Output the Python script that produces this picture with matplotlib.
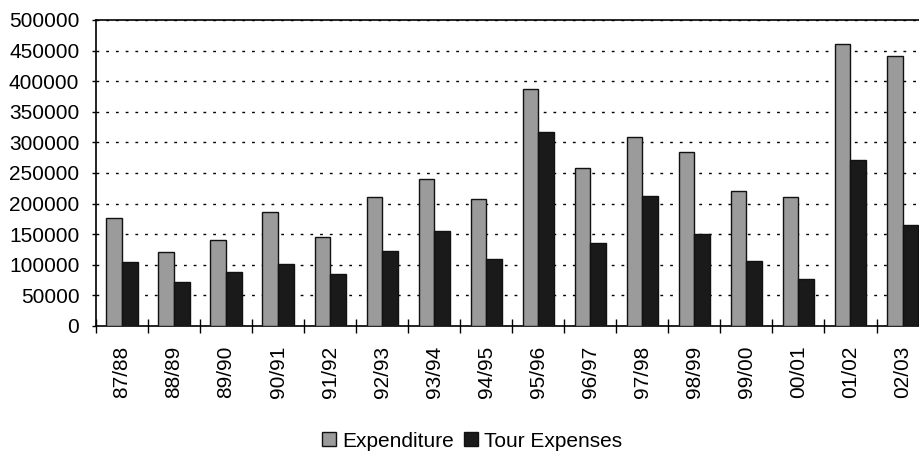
import numpy as np
import matplotlib.pyplot as plt

# financial years and the two series
years = ['87/88', '88/89', '89/90', '90/91', '91/92', '92/93', '93/94', '94/95',
         '95/96', '96/97', '97/98', '98/99', '99/00', '00/01', '01/02', '02/03']
expenditure = [177000, 121000, 141000, 187000, 145000, 210000, 240000, 207000,
               388000, 258000, 308000, 284000, 221000, 211000, 461000, 441000]
tour_expenses = [105000, 72000, 89000, 102000, 85000, 123000, 155000, 110000,
                 317000, 136000, 212000, 150000, 106000, 76000, 271000, 165000]

plt.rcParams['font.family'] = ['Liberation Sans', 'DejaVu Sans']

fig = plt.figure(figsize=(9.2, 4.63), dpi=100)
# plot area runs slightly past the right edge, like the cropped scan
ax = fig.add_axes([0.1043, 0.2959, 0.905, 0.661])

x = np.arange(len(years))
w = 0.3
ax.bar(x - w / 2, expenditure, w, color='#9b9b9b', edgecolor='#111111',
       linewidth=1.0, label='Expenditure', zorder=3)
ax.bar(x + w / 2, tour_expenses, w, color='#1a1a1a', edgecolor='#111111',
       linewidth=1.0, label='Tour Expenses', zorder=3)

ax.set_xlim(-0.5, len(years) - 0.5)
ax.set_ylim(0, 500000)
ax.set_yticks(np.arange(0, 500001, 50000))
ax.set_yticklabels([str(v) for v in range(0, 500001, 50000)], fontsize=15)

# category labels centred, tick marks on category boundaries
ax.set_xticks(x)
ax.set_xticklabels(years, rotation=90, fontsize=15)
ax.tick_params(axis='x', length=0, pad=14)
ax.set_xticks(np.arange(-0.5, len(years), 1), minor=True)
ax.tick_params(axis='x', which='minor', direction='inout', length=10, width=1)
ax.tick_params(axis='y', direction='out', length=3, width=1, pad=9)

ax.grid(axis='y', color='black', linestyle=(0, (2, 5)), linewidth=1.0, zorder=0)
ax.set_axisbelow(True)

for s in ['left', 'bottom', 'top']:
    ax.spines[s].set_linewidth(1.2)
ax.spines['right'].set_visible(False)

fig.legend(loc='center', bbox_to_anchor=(0.513, 0.047), ncol=2, frameon=False,
           fontsize=15, handlelength=0.65, handleheight=0.65, handletextpad=0.3,
           columnspacing=0.5)

fig.savefig('out.png', dpi=100)
